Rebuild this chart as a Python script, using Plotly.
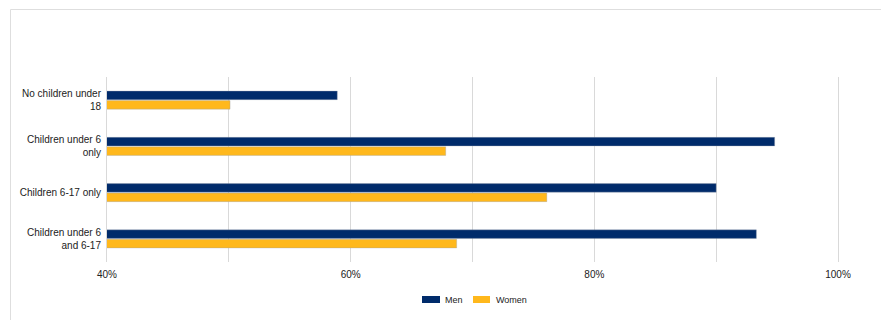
import plotly.graph_objects as go

categories = ["No children under<br>18", "Children under 6<br>only", "Children 6-17 only", "Children under 6<br>and 6-17"]
men = [58.9, 94.8, 90.0, 93.3]
women = [50.1, 67.8, 76.1, 68.7]
series_names = ["Men", "Women"]
colors = ["#002b6b", "#ffb81c"]
tick_vals = [40, 50, 60, 70, 80, 90, 100]
tick_text = ["40%", "", "60%", "", "80%", "", "100%"]

W, H = 881, 320
L, R, T, B = 107, 43, 77, 58
pw, ph = W - L - R, H - T - B

def px_x(x):
    return (x - L) / pw

def px_y(y):
    return (H - B - y) / ph

fig = go.Figure()
for name, vals, col in zip(series_names, [men, women], colors):
    fig.add_trace(go.Bar(
        y=categories, x=vals, name=name, orientation="h",
        marker=dict(color=col, line=dict(color="rgba(150,160,175,0.6)", width=0.6)),
        showlegend=False,
    ))

shapes = [
    dict(type="rect", xref="paper", yref="paper",
         x0=px_x(10.5), x1=px_x(W + 20), y0=px_y(H + 20), y1=px_y(9.5),
         line=dict(color="#dedede", width=1), fillcolor="rgba(0,0,0,0)", layer="below"),
]
annotations = []
legend_items = [(422, 440, 443), (473, 490, 494)]
for (sx0, sx1, tx), name, col in zip(legend_items, series_names, colors):
    shapes.append(dict(type="rect", xref="paper", yref="paper",
                       x0=px_x(sx0), x1=px_x(sx1), y0=px_y(303), y1=px_y(296),
                       fillcolor=col, line=dict(width=0)))
    annotations.append(dict(xref="paper", yref="paper", x=px_x(tx), y=px_y(299.5),
                            text=name, showarrow=False, xanchor="left", yanchor="middle",
                            font=dict(size=9, color="#222")))

fig.update_layout(
    width=W, height=H,
    margin=dict(l=L, r=R, t=T, b=B),
    barmode="group", bargap=0.59, bargroupgap=0.1,
    paper_bgcolor="white", plot_bgcolor="white",
    font=dict(family="Liberation Sans, Arial, sans-serif", size=10, color="#222"),
    shapes=shapes, annotations=annotations,
    xaxis=dict(range=[40, 100], tickvals=tick_vals, ticktext=tick_text,
               showgrid=True, gridcolor="#d9d9d9", gridwidth=1, zeroline=False,
               showline=False, ticks="", ticklabelstandoff=5,
               tickfont=dict(size=10, color="#222"), fixedrange=True),
    yaxis=dict(autorange="reversed", showgrid=False, zeroline=False,
               showline=True, linecolor="#d9d9d9", linewidth=1, mirror=True,
               ticks="", ticklabelstandoff=3, tickfont=dict(size=10, color="#222")),
)

fig.write_html("out.html")
